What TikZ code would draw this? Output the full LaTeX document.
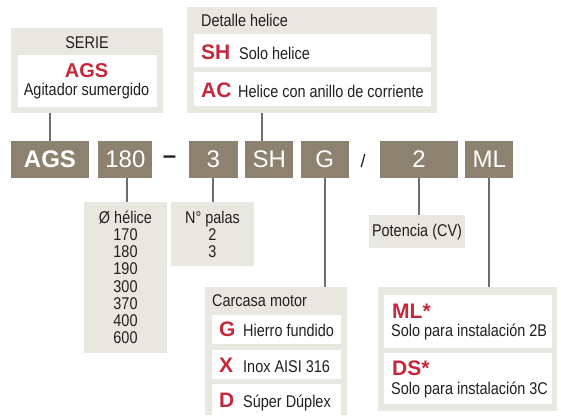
\documentclass[tikz,border=0pt]{standalone}
\usepackage{fontspec}
\setmainfont{Liberation Sans}
\newfontfamily\condfont[FakeStretch=0.85]{Liberation Sans}
\usepackage{xcolor}
\usetikzlibrary{positioning}

\definecolor{codetan}{HTML}{8D8270}
\definecolor{panelgrey}{HTML}{E9E8E0}
\definecolor{keyred}{HTML}{C5283A}
\definecolor{linegrey}{HTML}{6D6E71}
\definecolor{inkblack}{HTML}{231F20}

\begin{document}
\begin{tikzpicture}[
	x=1pt, y=-1pt,
	node distance=7pt,
	code/.style={rectangle, fill=codetan, text=white, minimum height=37pt, inner sep=0pt, font=\fontsize{24}{24}\selectfont},
	panel/.style={rectangle, fill=panelgrey, anchor=north west, inner sep=0pt},
	card/.style={rectangle, fill=white, anchor=north west, inner sep=0pt},
	label/.style={anchor=base west, inner sep=0pt, text=inkblack, font=\condfont\fontsize{17}{17.2}\selectfont},
	clabel/.style={label, anchor=base},
	key/.style={anchor=base west, inner sep=0pt, text=keyred, font=\bfseries\fontsize{21}{21}\selectfont},
	link/.style={draw=linegrey, line width=2pt}
	]
	\useasboundingbox (0,0) rectangle (561,415);

	% Code row
	\node (ags) [code, minimum width=78pt, font=\bfseries\fontsize{24}{24}\selectfont] at (50,159.5) {AGS};
	\node (diam) [code, minimum width=54pt, right=9pt of ags] {180};
	\node (dash) [inner sep=0pt, text=inkblack, font=\bfseries\fontsize{24}{24}\selectfont] at (169.5,160) {--};
	\node (blades) [code, minimum width=49pt, right=36pt of diam] {3};
	\node (sh) [code, minimum width=48pt, right=of blades] {SH};
	\node (g) [code, minimum width=48pt, right=of sh] {G};
	\node (slash) [inner sep=0pt, text=inkblack, font=\fontsize{18}{18}\selectfont] at (363,161) {/};
	\node (pow) [code, minimum width=78pt, right=31pt of g] {2};
	\node (ml) [code, minimum width=48pt, right=of pow] {ML};

	% Serie
	\node (serie) [panel, minimum width=152pt, minimum height=85pt] at (11,28) {};
	\node (serietitle) [clabel] at (87,48) {SERIE};
	\node (seriecard) [card, minimum width=139pt, minimum height=52pt] at (18,55) {};
	\node (seriekey) [key, anchor=base, font=\bfseries\fontsize{20}{20}\selectfont] at (86.5,77) {AGS};
	\node (serietext) [clabel] at (86.5,95) {Agitador sumergido};

	% Detalle helice
	\node (helix) [panel, minimum width=250pt, minimum height=106pt] at (187,7) {};
	\node (helixtitle) [label] at (201,26) {Detalle helice};
	\node (helixsh) [card, minimum width=237pt, minimum height=33pt] at (194,34) {};
	\node (helixac) [card, minimum width=237pt, minimum height=34pt] at (194,72) {};
	\node (shkey) [key] at (201,59) {SH};
	\node (shtext) [label] at (239,59) {Solo helice};
	\node (ackey) [key] at (201,97) {AC};
	\node (actext) [label] at (238,97) {Helice con anillo de corriente};

	% Diametro helice
	\node (diameter) [panel, minimum width=83pt, minimum height=151pt] at (84,202) {};
	\node (diamtitle) [clabel] at (125.5,223.3) {Ø hélice};
	\foreach \d [count=\i] in {170,180,190,300,370,400,600}
		\node (diam\i) [clabel] at (125.5,223.3+17.2*\i) {\d};

	% Palas
	\node (palas) [panel, minimum width=83pt, minimum height=64pt] at (171,202) {};
	\node (palastitle) [clabel] at (212.5,223.3) {N° palas};
	\foreach \p [count=\i] in {2,3}
		\node (palas\i) [clabel] at (212.5,223.3+17.2*\i) {\p};

	% Carcasa motor
	\node (housing) [panel, minimum width=142pt, minimum height=128pt] at (205,287) {};
	\node (housingtitle) [label] at (212,306) {Carcasa motor};
	\node (housingg) [card, minimum width=129pt, minimum height=29pt] at (212,315) {};
	\node (housingx) [card, minimum width=129pt, minimum height=29pt] at (212,350) {};
	\node (housingd) [card, minimum width=129pt, minimum height=31pt] at (212,384) {};
	\node (gkey) [key] at (219,336.7) {G};
	\node (gtext) [label] at (243,336.7) {Hierro fundido};
	\node (xkey) [key] at (219,372.7) {X};
	\node (xtext) [label] at (243,372.7) {Inox AISI 316};
	\node (dkey) [key] at (219,407.7) {D};
	\node (dtext) [label] at (243,407.7) {Súper Dúplex};

	% Potencia
	\node (power) [panel, minimum width=96pt, minimum height=33pt] at (369,215) {};
	\node (powertext) [clabel] at (417,236) {Potencia (CV)};

	% Instalacion
	\node (install) [panel, minimum width=179pt, minimum height=124pt] at (378,287) {};
	\node (installml) [card, minimum width=168pt, minimum height=53pt] at (384,295) {};
	\node (installds) [card, minimum width=168pt, minimum height=51pt] at (384,353) {};
	\node (mlkey) [key] at (392,318.3) {ML*};
	\node (mltext) [label] at (391,336.7) {Solo para instalación 2B};
	\node (dskey) [key] at (392,375) {DS*};
	\node (dstext) [label] at (391,394.3) {Solo para instalación 3C};

	% Lines
	\draw[link] (serie.south -| ags) -- (ags.north);
	\draw[link] (helix.south -| 262,0) -- (sh.north -| 262,0);
	\draw[link] (diam.south -| 127,0) -- (diameter.north -| 127,0);
	\draw[link] (blades.south) -- (palas.north -| blades);
	\draw[link] (g.south) -- (housing.north -| g);
	\draw[link] (pow.south) -- (power.north -| pow);
	\draw[link] (ml.south) -- (install.north -| ml);

\end{tikzpicture}
\end{document}
